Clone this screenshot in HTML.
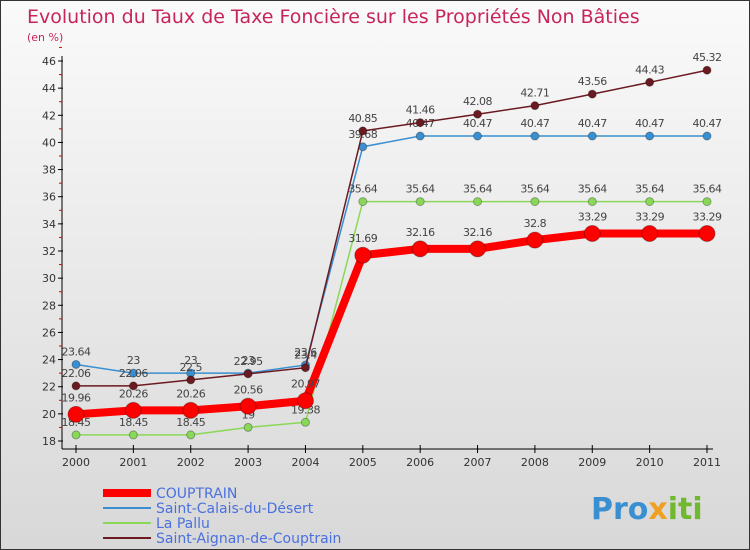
<!DOCTYPE html>
<html><head><meta charset="utf-8"><style>
body{margin:0}
#c{width:750px;height:550px;position:relative;box-sizing:border-box;border:1px solid #333;background:linear-gradient(#fafafa,#d8d8d8);overflow:hidden;font-family:"DejaVu Sans","Liberation Sans",sans-serif}
</style></head><body>
<div id="c">
<svg id="s" width="750" height="550" style="position:absolute;left:0;top:0">
<text x="26" y="22" font-size="19" fill="#c8245c">Evolution du Taux de Taxe Foncière sur les Propriétés Non Bâties</text>
<text x="26" y="40" font-size="11" fill="#c8245c">(en %)</text>
<g id="g"></g>
<text x="590" y="518" font-size="30" font-weight="bold" fill="#3a8fd0">Pro<tspan fill="#f0a020">x</tspan><tspan fill="#70b830">iti</tspan></text>
</svg>
</div>
<script>
const years=[2000,2001,2002,2003,2004,2005,2006,2007,2008,2009,2010,2011];
const yTicks=[18,20,22,24,26,28,30,32,34,36,38,40,42,44,46];
const couptrain=[19.96,20.26,20.26,20.56,20.97,31.69,32.16,32.16,32.8,33.29,33.29,33.29];
const saintCalais=[23.64,23,23,23,23.6,39.68,40.47,40.47,40.47,40.47,40.47,40.47];
const laPallu=[18.45,18.45,18.45,19,19.38,35.64,35.64,35.64,35.64,35.64,35.64,35.64];
const saintAignan=[22.06,22.06,22.5,22.95,23.4,40.85,41.46,42.08,42.71,43.56,44.43,45.32];
const X=i=>75+i*(706-75)/11;
const Y=v=>440-(v-18)*(380/28);
const g=document.getElementById('g');const NS='http://www.w3.org/2000/svg';
function el(t,a,p){const e=document.createElementNS(NS,t);for(const k in a)e.setAttribute(k,a[k]);(p||g).appendChild(e);return e;}
let e=el('line',{x1:61,y1:55,x2:61,y2:448,stroke:'#000'});


e=el('line',{x1:61,y1:448,x2:712,y2:448,stroke:'#000'});


yTicks.forEach(v=>{el('line',{x1:57,y1:Y(v),x2:62,y2:Y(v),stroke:'#000'});
el('line',{x1:58,y1:Y(v+1),x2:61,y2:Y(v+1),stroke:'#d00'});
const t=el('text',{x:55,y:Y(v)+4,'font-size':11,'text-anchor':'end',fill:'#333'});t.textContent=v;

});
years.forEach((y,i)=>{el('line',{x1:X(i),y1:444,x2:X(i),y2:452,stroke:'#000'});
const t=el('text',{x:X(i),y:465,'font-size':11,'text-anchor':'middle',fill:'#333'});t.textContent=y;

});
function series(d,col,w,r,name,labDy){
const p=el('polyline',{points:d.map((v,i)=>X(i)+','+Y(v)).join(' '),fill:'none',stroke:col,'stroke-width':w});


d.forEach((v,i)=>{const c=el('circle',{cx:X(i),cy:Y(v),r:r,fill:col,stroke:'rgba(0,0,0,0.3)'});


const t=el('text',{x:X(i),y:Y(v)-labDy,'font-size':11,'text-anchor':'middle',fill:'#444','letter-spacing':'-0.5'});t.textContent=v;

});}
series(saintCalais,'#3a8fd0',1.5,4,'saint-calais',9);
series(laPallu,'#8ad858',1.5,4,'la-pallu',9);
series(saintAignan,'#6a1a20',1.5,4,'saint-aignan',9);
series(couptrain,'#ff0000',8,8,'couptrain',13);
const leg=[['COUPTRAIN','#ff0000',8],['Saint-Calais-du-Désert','#3a8fd0',2],['La Pallu','#8ad858',2],['Saint-Aignan-de-Couptrain','#6a1a20',2]];
leg.forEach((l,i)=>{const y=492+i*15;el('line',{x1:102,y1:y,x2:150,y2:y,stroke:l[1],'stroke-width':l[2]});
const t=el('text',{x:155,y:y+5,'font-size':14,fill:'#4a70e0'});t.textContent=l[0];

});
</script>
</body></html>
